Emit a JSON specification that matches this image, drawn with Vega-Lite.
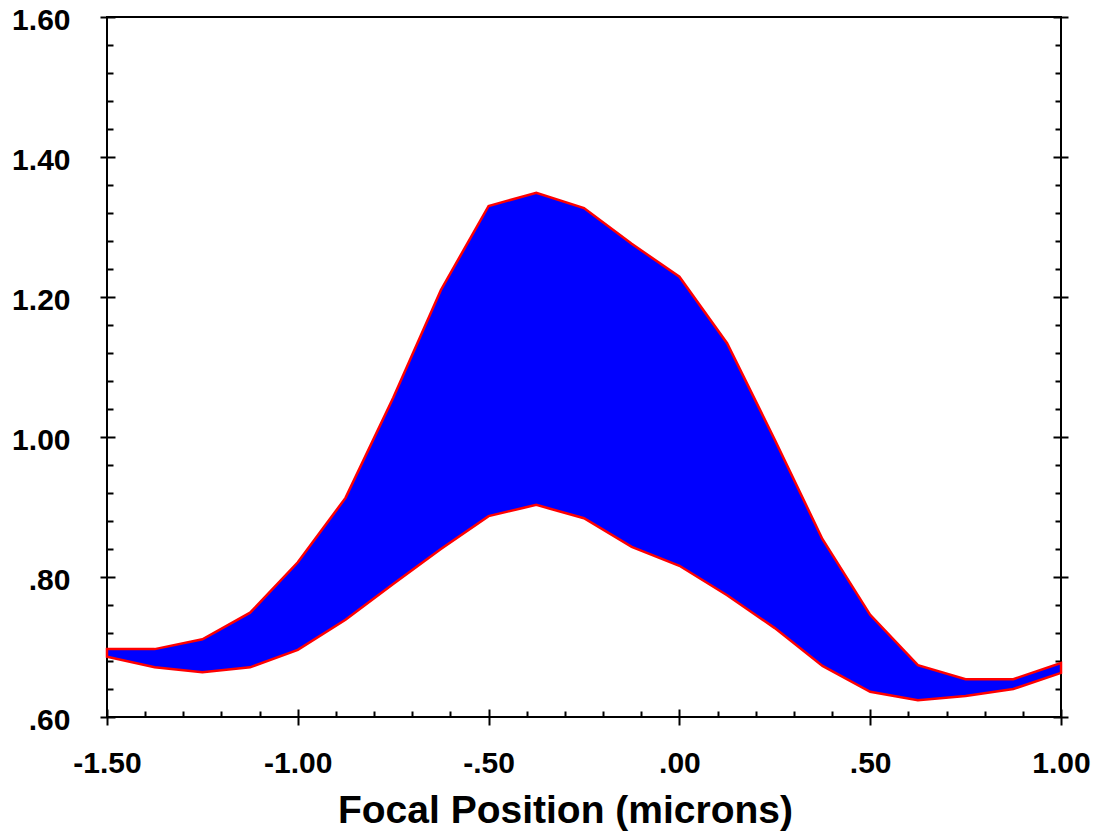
{
  "$schema": "https://vega.github.io/schema/vega-lite/v6.json",
  "width": 954,
  "height": 700,
  "autosize": {"type": "none"},
  "padding": {"left": 107, "top": 17, "right": 41, "bottom": 120},
  "background": "white",
  "config": {
    "view": {"stroke": "black", "strokeWidth": 2},
    "axis": {
      "grid": false,
      "tickColor": "black",
      "tickWidth": 2,
      "domain": false,
      "labelFont": "Liberation Sans",
      "labelFontWeight": "bold",
      "labelFontSize": 30,
      "labelColor": "black",
      "titleFont": "Liberation Sans",
      "titleFontWeight": "bold",
      "titleColor": "black",
      "labelFlush": false,
      "labelOverlap": false
    }
  },
  "data": {
    "values": [
      {"x": -1.5, "upper": 0.697, "lower": 0.686},
      {"x": -1.375, "upper": 0.697, "lower": 0.671},
      {"x": -1.25, "upper": 0.711, "lower": 0.664},
      {"x": -1.125, "upper": 0.749, "lower": 0.671},
      {"x": -1.0, "upper": 0.821, "lower": 0.696},
      {"x": -0.875, "upper": 0.913, "lower": 0.739},
      {"x": -0.75, "upper": 1.056, "lower": 0.79},
      {"x": -0.625, "upper": 1.21, "lower": 0.84},
      {"x": -0.5, "upper": 1.33, "lower": 0.887},
      {"x": -0.375, "upper": 1.349, "lower": 0.903},
      {"x": -0.25, "upper": 1.327, "lower": 0.884},
      {"x": -0.125, "upper": 1.276, "lower": 0.843},
      {"x": 0.0, "upper": 1.229, "lower": 0.816},
      {"x": 0.125, "upper": 1.134, "lower": 0.774},
      {"x": 0.25, "upper": 0.996, "lower": 0.727},
      {"x": 0.375, "upper": 0.854, "lower": 0.673},
      {"x": 0.5, "upper": 0.746, "lower": 0.636},
      {"x": 0.625, "upper": 0.674, "lower": 0.624},
      {"x": 0.75, "upper": 0.654, "lower": 0.63},
      {"x": 0.875, "upper": 0.654, "lower": 0.64},
      {"x": 1.0, "upper": 0.677, "lower": 0.663}
    ]
  },
  "resolve": {"axis": {"x": "independent", "y": "independent"}},
  "layer": [
    {
      "mark": {"type": "area", "fill": "#0000ff", "stroke": "#ff0000", "strokeWidth": 2.5, "fillOpacity": 1},
      "encoding": {
        "x": {
          "field": "x", "type": "quantitative",
          "scale": {"domain": [-1.5, 1.0], "nice": false, "zero": false},
          "axis": {
            "orient": "bottom",
            "title": "Focal Position (microns)",
            "titleFontSize": 39,
            "titleBaseline": "alphabetic",
            "titleAlign": "center",
            "titleX": 458,
            "titleY": 113,
            "values": [-1.5, -1.0, -0.5, 0, 0.5, 1.0],
            "offset": -8,
            "tickSize": 16,
            "labelPadding": 23,
            "labelBaseline": "top",
            "labelExpr": "replace(replace(format(datum.value, '.2f'), '\u2212', '-'), '0.', '.')"
          }
        },
        "y": {
          "field": "upper", "type": "quantitative",
          "scale": {"domain": [0.6, 1.6], "nice": false, "zero": false},
          "axis": {
            "orient": "left",
            "title": null,
            "values": [0.6, 0.8, 1.0, 1.2, 1.4, 1.6],
            "offset": -8,
            "tickSize": 15,
            "labelPadding": 30,
            "labelOffset": 3,
            "labelExpr": "replace(format(datum.value, '.2f'), '0.', '.')"
          }
        },
        "y2": {"field": "lower"}
      }
    },
    {
      "mark": {"type": "line", "opacity": 0},
      "encoding": {
        "x": {
          "field": "x", "type": "quantitative",
          "axis": {
            "orient": "bottom",
            "title": null,
            "labels": false,
            "tickSize": -6,
            "values": [-1.4, -1.3, -1.2, -1.1, -0.9, -0.8, -0.7, -0.6, -0.4, -0.3, -0.2, -0.1, 0.1, 0.2, 0.3, 0.4, 0.6, 0.7, 0.8, 0.9]
          }
        },
        "y": {
          "field": "upper", "type": "quantitative",
          "axis": {
            "orient": "left",
            "title": null,
            "labels": false,
            "tickSize": -6,
            "values": [0.64, 0.68, 0.72, 0.76, 0.84, 0.88, 0.92, 0.96, 1.04, 1.08, 1.12, 1.16, 1.24, 1.28, 1.32, 1.36, 1.44, 1.48, 1.52, 1.56]
          }
        }
      }
    },
    {
      "mark": {"type": "line", "opacity": 0},
      "encoding": {
        "x": {"field": "x", "type": "quantitative", "axis": null},
        "y": {
          "field": "lower", "type": "quantitative",
          "axis": {
            "orient": "right",
            "title": null,
            "labels": false,
            "offset": -8,
            "tickSize": 15,
            "values": [0.6, 0.8, 1.0, 1.2, 1.4, 1.6]
          }
        }
      }
    },
    {
      "mark": {"type": "line", "opacity": 0},
      "encoding": {
        "x": {"field": "x", "type": "quantitative", "axis": null},
        "y": {
          "field": "lower", "type": "quantitative",
          "axis": {
            "orient": "right",
            "title": null,
            "labels": false,
            "tickSize": -6,
            "values": [0.64, 0.68, 0.72, 0.76, 0.84, 0.88, 0.92, 0.96, 1.04, 1.08, 1.12, 1.16, 1.24, 1.28, 1.32, 1.36, 1.44, 1.48, 1.52, 1.56]
          }
        }
      }
    }
  ]
}
